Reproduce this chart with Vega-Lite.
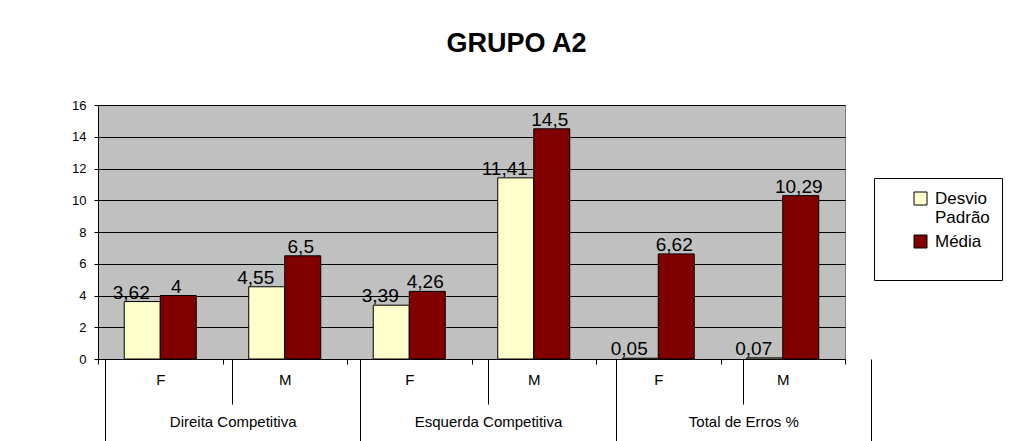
{
  "$schema": "https://vega.github.io/schema/vega-lite/v6.json",
  "width": 747,
  "height": 254,
  "autosize": {"type": "none"},
  "padding": {"left": 98, "top": 105, "right": 168, "bottom": 82},
  "background": "white",
  "config": {
    "font": "Liberation Sans",
    "view": {"fill": "#C0C0C0", "stroke": "#808080"},
    "locale": {"number": {"decimal": ",", "thousands": ".", "grouping": [3], "currency": ["", ""]}}
  },
  "title": {
    "text": "GRUPO A2",
    "fontSize": 27,
    "fontWeight": "bold",
    "color": "black",
    "anchor": "middle",
    "dx": 45,
    "baseline": "alphabetic",
    "offset": 20
  },
  "data": {
    "values": [
      {"key": "Direita Competitiva|F", "group": "Direita Competitiva", "sex": "F", "series": "Desvio Padrão", "value": 3.62},
      {"key": "Direita Competitiva|F", "group": "Direita Competitiva", "sex": "F", "series": "Média", "value": 4},
      {"key": "Direita Competitiva|M", "group": "Direita Competitiva", "sex": "M", "series": "Desvio Padrão", "value": 4.55},
      {"key": "Direita Competitiva|M", "group": "Direita Competitiva", "sex": "M", "series": "Média", "value": 6.5},
      {"key": "Esquerda Competitiva|F", "group": "Esquerda Competitiva", "sex": "F", "series": "Desvio Padrão", "value": 3.39},
      {"key": "Esquerda Competitiva|F", "group": "Esquerda Competitiva", "sex": "F", "series": "Média", "value": 4.26},
      {"key": "Esquerda Competitiva|M", "group": "Esquerda Competitiva", "sex": "M", "series": "Desvio Padrão", "value": 11.41},
      {"key": "Esquerda Competitiva|M", "group": "Esquerda Competitiva", "sex": "M", "series": "Média", "value": 14.5},
      {"key": "Total de Erros %|F", "group": "Total de Erros %", "sex": "F", "series": "Desvio Padrão", "value": 0.05},
      {"key": "Total de Erros %|F", "group": "Total de Erros %", "sex": "F", "series": "Média", "value": 6.62},
      {"key": "Total de Erros %|M", "group": "Total de Erros %", "sex": "M", "series": "Desvio Padrão", "value": 0.07},
      {"key": "Total de Erros %|M", "group": "Total de Erros %", "sex": "M", "series": "Média", "value": 10.29}
    ]
  },
  "layer": [
    {
      "encoding": {
        "x": {
          "field": "key", "type": "nominal", "sort": null,
          "scale": {"paddingInner": 0, "paddingOuter": 0},
          "axis": {
            "title": null, "orient": "bottom",
            "labelExpr": "split(datum.value, '|')[1]",
            "labelAngle": 0, "labelFontSize": 15, "labelColor": "black", "labelPadding": 8,
            "domainColor": "black", "domainWidth": 1,
            "ticks": true, "tickColor": "black", "tickSize": 5, "tickWidth": 1, "tickBand": "extent",
            "grid": false
          }
        },
        "xOffset": {
          "field": "series", "type": "nominal", "sort": ["Desvio Padrão", "Média"],
          "scale": {"paddingInner": 0, "paddingOuter": 0.729}
        },
        "y": {
          "field": "value", "type": "quantitative",
          "scale": {"domain": [0, 16], "nice": false},
          "axis": {
            "title": null, "values": [0, 2, 4, 6, 8, 10, 12, 14, 16],
            "labelFontSize": 13, "labelColor": "black", "labelPadding": 8,
            "domainColor": "black", "tickColor": "black", "tickSize": 4,
            "grid": true, "gridColor": "black", "gridWidth": 1
          }
        }
      },
      "layer": [
        {
          "mark": {"type": "bar", "stroke": "black", "strokeWidth": 1},
          "encoding": {
            "color": {
              "field": "series", "type": "nominal",
              "scale": {"domain": ["Desvio Padrão", "Média"], "range": ["#FFFFCC", "#800000"]},
              "legend": {
                "orient": "none", "legendX": 776, "legendY": 73,
                "title": " ", "titleOrient": "bottom", "titleFontSize": 17, "titlePadding": 2,
                "strokeColor": "black", "fillColor": "white", "padding": 12,
                "symbolType": "square", "symbolSize": 169, "symbolStrokeColor": "black",
                "symbolStrokeWidth": 1, "symbolOffset": 26, "symbolOpacity": 1,
                "labelFontSize": 17, "labelColor": "black", "labelOffset": 6, "labelLimit": 0,
                "labelExpr": "datum.label == 'Desvio Padrão' ? ['Desvio', 'Padrão'] : datum.label",
                "rowPadding": 6, "cornerRadius": 0
              }
            }
          }
        },
        {
          "transform": [{"filter": "datum.series == 'Desvio Padrão'"}],
          "mark": {"type": "text", "baseline": "alphabetic", "dy": -3, "dx": -11, "fontSize": 19, "color": "black"},
          "encoding": {"text": {"field": "value", "type": "quantitative", "format": "~g"}}
        },
        {
          "transform": [{"filter": "datum.series == 'Média'"}],
          "mark": {"type": "text", "baseline": "alphabetic", "dy": -3, "dx": -2, "fontSize": 19, "color": "black"},
          "encoding": {"text": {"field": "value", "type": "quantitative", "format": "~g"}}
        }
      ]
    },
    {
      "mark": {"type": "point", "opacity": 0},
      "encoding": {
        "x": {
          "field": "group", "type": "nominal",
          "scale": {"domain": ["Direita Competitiva", "Esquerda Competitiva", "Total de Erros %"], "range": [7, 773], "paddingInner": 0, "paddingOuter": 0},
          "axis": {
            "title": null, "orient": "bottom", "domain": false,
            "labelAngle": 0, "labelFontSize": 15, "labelColor": "black", "labelPadding": -27, "labelOverlap": false,
            "ticks": true, "tickColor": "black", "tickSize": 82, "tickWidth": 1, "tickBand": "extent",
            "grid": false
          }
        }
      }
    },
    {
      "mark": {"type": "point", "opacity": 0},
      "encoding": {
        "x": {
          "field": "group", "type": "nominal",
          "scale": {"domain": ["Direita Competitiva", "Esquerda Competitiva", "Total de Erros %"], "range": [7, 773], "paddingInner": 0, "paddingOuter": 0},
          "axis": {
            "title": null, "orient": "bottom", "domain": false, "labels": false,
            "ticks": true, "tickColor": "black", "tickSize": 45, "tickWidth": 1, "tickBand": "center",
            "grid": false
          }
        }
      }
    }
  ],
  "resolve": {"scale": {"x": "independent"}}
}
